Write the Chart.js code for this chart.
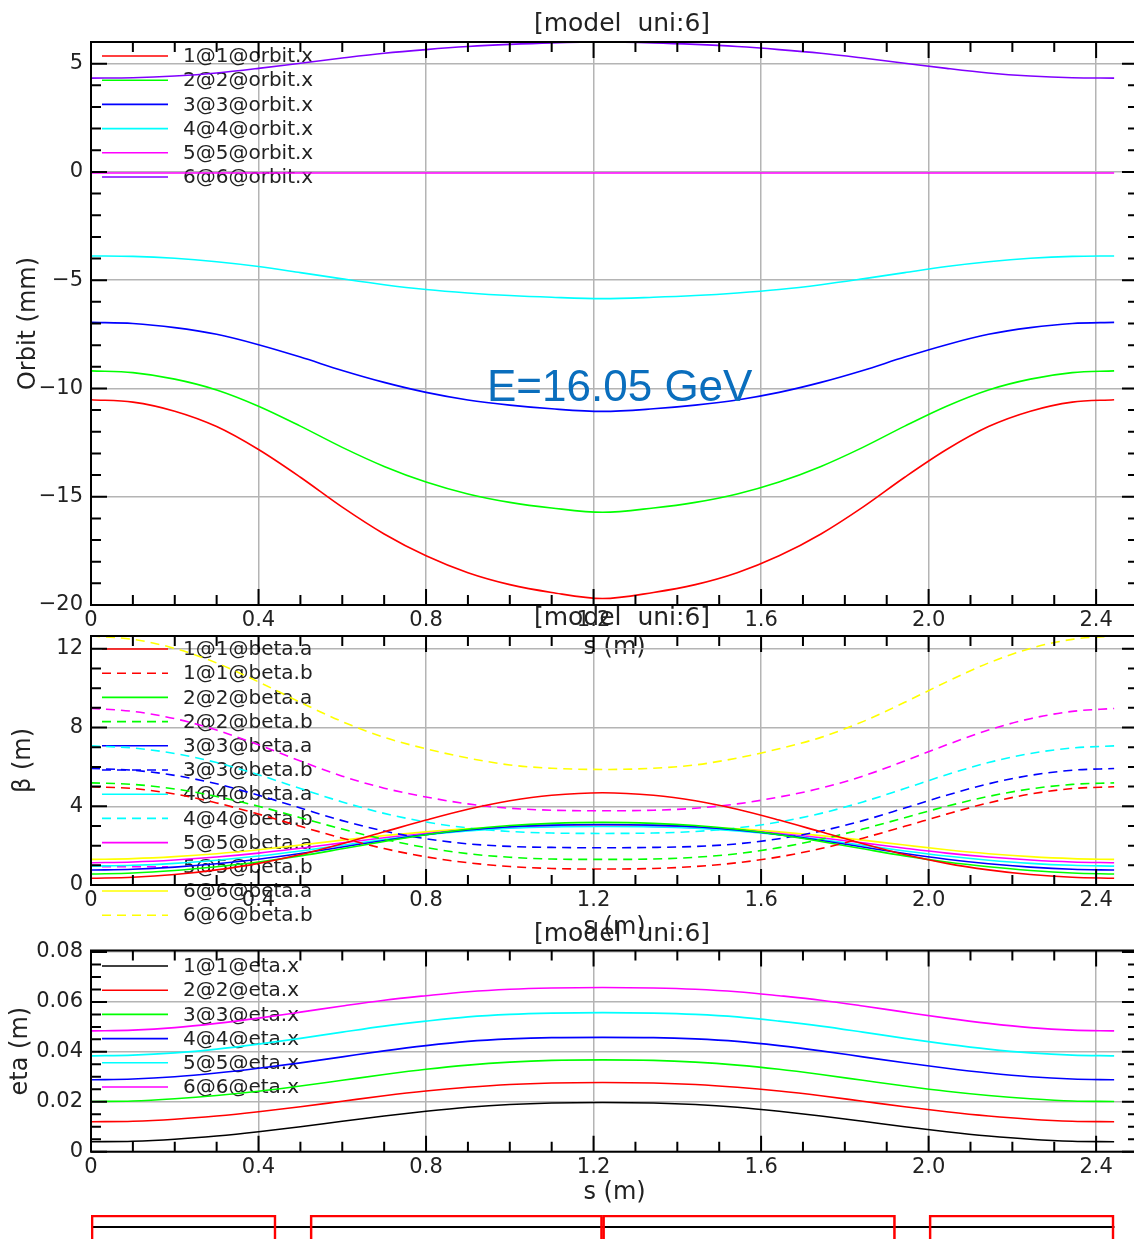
<!DOCTYPE html>
<html>
<head>
<meta charset="utf-8">
<script src="https://cdn.jsdelivr.net/npm/chart.js@4/dist/chart.umd.min.js"></script>
<style>
  html, body { margin: 0; padding: 0; background: #fff; overflow: hidden; width: 1134px; height: 1239px; }
  canvas.panel { position: absolute; left: 0; }
</style>
</head>
<body>
<canvas id="orbitPanel" class="panel" width="1150" height="662" style="top:0px;width:1150px;height:662px"></canvas>
<canvas id="betaPanel" class="panel" width="1150" height="342" style="top:600px;width:1150px;height:342px"></canvas>
<canvas id="etaPanel" class="panel" width="1150" height="292" style="top:915px;width:1150px;height:292px"></canvas>
<canvas id="latticePanel" class="panel" width="1150" height="65" style="top:1200px;width:1150px;height:65px"></canvas>
<script>
// ---- longitudinal positions along the cell (m) ----
const sPos = [0, 0.1, 0.2, 0.3, 0.4, 0.5, 0.6, 0.7, 0.8, 0.9, 1.0, 1.1, 1.2215,
              1.343, 1.443, 1.543, 1.643, 1.743, 1.843, 1.943, 2.043, 2.143, 2.243, 2.343, 2.443];

// ---- orbit.x (mm) for universes 1..6 ----
const orbit1 = [-10.52,-10.63,-11.05,-11.76,-12.82,-14.10,-15.48,-16.72,-17.73,-18.51,-19.06,-19.42,-19.70,
                -19.42,-19.06,-18.51,-17.73,-16.72,-15.48,-14.10,-12.82,-11.76,-11.05,-10.63,-10.52];
const orbit2 = [-9.19,-9.27,-9.57,-10.07,-10.82,-11.74,-12.72,-13.60,-14.32,-14.87,-15.26,-15.52,-15.72,
                -15.52,-15.26,-14.87,-14.32,-13.60,-12.72,-11.74,-10.82,-10.07,-9.57,-9.27,-9.19];
const orbit3 = [-6.95,-7.00,-7.19,-7.50,-7.98,-8.55,-9.17,-9.72,-10.18,-10.53,-10.77,-10.94,-11.06,
                -10.94,-10.77,-10.53,-10.18,-9.72,-9.17,-8.55,-7.98,-7.50,-7.19,-7.00,-6.95];
const orbit4 = [-3.88,-3.90,-3.99,-4.15,-4.37,-4.65,-4.94,-5.21,-5.43,-5.59,-5.71,-5.79,-5.85,
                -5.79,-5.71,-5.59,-5.43,-5.21,-4.94,-4.65,-4.37,-4.15,-3.99,-3.90,-3.88];
const orbit5 = [-0.05,-0.05,-0.05,-0.05,-0.05,-0.05,-0.05,-0.05,-0.05,-0.05,-0.05,-0.05,-0.05,
                -0.05,-0.05,-0.05,-0.05,-0.05,-0.05,-0.05,-0.05,-0.05,-0.05,-0.05,-0.05];
const orbit6 = [4.33,4.35,4.43,4.57,4.78,5.02,5.26,5.48,5.65,5.79,5.89,5.96,6.00,
                5.96,5.89,5.79,5.65,5.48,5.26,5.02,4.78,4.57,4.43,4.35,4.33];

// ---- beta functions (m), a = horizontal, b = vertical ----
const betaA1 = [0.34,0.39,0.53,0.77,1.10,1.55,2.10,2.70,3.30,3.85,4.28,4.56,4.69,
                4.56,4.28,3.85,3.30,2.70,2.10,1.55,1.10,0.77,0.53,0.39,0.34];
const betaB1 = [4.99,4.90,4.62,4.17,3.60,2.98,2.38,1.85,1.43,1.13,0.94,0.84,0.81,
                0.84,0.94,1.13,1.43,1.85,2.38,2.98,3.60,4.17,4.62,4.90,4.99];
const betaA2 = [0.56,0.61,0.74,0.93,1.17,1.48,1.84,2.21,2.55,2.83,3.02,3.13,3.18,
                3.13,3.02,2.83,2.55,2.21,1.84,1.48,1.17,0.93,0.74,0.61,0.56];
const betaB2 = [5.19,5.11,4.88,4.50,4.00,3.42,2.84,2.32,1.90,1.59,1.41,1.32,1.30,
                1.32,1.41,1.59,1.90,2.32,2.84,3.42,4.00,4.50,4.88,5.11,5.19];
const betaA3 = [0.76,0.80,0.91,1.08,1.31,1.60,1.93,2.26,2.56,2.80,2.96,3.04,3.07,
                3.04,2.96,2.80,2.56,2.26,1.93,1.60,1.31,1.08,0.91,0.80,0.76];
const betaB3 = [5.92,5.83,5.57,5.14,4.56,3.91,3.27,2.74,2.35,2.09,1.96,1.91,1.89,
                1.91,1.96,2.09,2.35,2.74,3.27,3.91,4.56,5.14,5.57,5.83,5.92];
const betaA4 = [0.96,1.00,1.10,1.26,1.47,1.73,2.02,2.31,2.56,2.75,2.88,2.95,2.97,
                2.95,2.88,2.75,2.56,2.31,2.02,1.73,1.47,1.26,1.10,1.00,0.96];
const betaB4 = [7.07,6.96,6.68,6.22,5.60,4.90,4.22,3.64,3.20,2.90,2.72,2.64,2.62,
                2.64,2.72,2.90,3.20,3.64,4.22,4.90,5.60,6.22,6.68,6.96,7.07];
const betaA5 = [1.13,1.17,1.27,1.42,1.62,1.87,2.14,2.40,2.62,2.79,2.91,2.98,3.00,
                2.98,2.91,2.79,2.62,2.40,2.14,1.87,1.62,1.42,1.27,1.17,1.13];
const betaB5 = [8.97,8.82,8.45,7.87,7.12,6.30,5.53,4.92,4.47,4.12,3.90,3.80,3.77,
                3.80,3.90,4.12,4.47,4.92,5.53,6.30,7.12,7.87,8.45,8.82,8.97];
const betaA6 = [1.30,1.34,1.44,1.59,1.79,2.03,2.28,2.51,2.70,2.85,2.95,3.00,3.02,
                3.00,2.95,2.85,2.70,2.51,2.28,2.03,1.79,1.59,1.44,1.34,1.30];
const betaB6 = [12.65,12.48,12.02,11.28,10.32,9.28,8.30,7.50,6.92,6.45,6.10,5.93,5.87,
                5.93,6.10,6.45,6.92,7.50,8.30,9.28,10.32,11.28,12.02,12.48,12.65];

// ---- horizontal dispersion eta.x (m) ----
const eta1 = [0.0040,0.0042,0.0050,0.0063,0.0080,0.0100,0.0122,0.0143,0.0162,0.0178,0.0189,0.0195,0.0197,
              0.0195,0.0189,0.0178,0.0162,0.0143,0.0122,0.0100,0.0080,0.0063,0.0050,0.0042,0.0040];
const eta2 = [0.0120,0.0122,0.0130,0.0143,0.0160,0.0180,0.0202,0.0224,0.0243,0.0258,0.0269,0.0275,0.0277,
              0.0275,0.0269,0.0258,0.0243,0.0224,0.0202,0.0180,0.0160,0.0143,0.0130,0.0122,0.0120];
const eta3 = [0.0201,0.0203,0.0212,0.0225,0.0242,0.0263,0.0286,0.0309,0.0330,0.0347,0.0359,0.0366,0.0368,
              0.0366,0.0359,0.0347,0.0330,0.0309,0.0286,0.0263,0.0242,0.0225,0.0212,0.0203,0.0201];
const eta4 = [0.0288,0.0291,0.0300,0.0315,0.0334,0.0356,0.0380,0.0404,0.0425,0.0442,0.0452,0.0457,0.0458,
              0.0457,0.0452,0.0442,0.0425,0.0404,0.0380,0.0356,0.0334,0.0315,0.0300,0.0291,0.0288];
const eta5 = [0.0384,0.0387,0.0396,0.0411,0.0431,0.0454,0.0479,0.0503,0.0523,0.0540,0.0550,0.0555,0.0557,
              0.0555,0.0550,0.0540,0.0523,0.0503,0.0479,0.0454,0.0431,0.0411,0.0396,0.0387,0.0384];
const eta6 = [0.0484,0.0487,0.0497,0.0514,0.0535,0.0559,0.0584,0.0607,0.0625,0.0641,0.0651,0.0656,0.0658,
              0.0656,0.0651,0.0641,0.0625,0.0607,0.0584,0.0559,0.0535,0.0514,0.0497,0.0487,0.0484];

// ---- lattice elements (bends) along s ----
const bendStart = [0, 0.523, 1.2215, 2.001];
const bendEnd   = [0.442, 1.2215, 1.921, 2.443];
const cellLength = 2.443;

// ---- axis tick labels ----
const sTickLabels = ['0', '0.4', '0.8', '1.2', '1.6', '2.0', '2.4'];
const orbitTickLabels = ['−20', '−15', '−10', '−5', '0', '5'];
const betaTickLabels = ['0', '4', '8', '12'];
const etaTickLabels = ['0', '0.02', '0.04', '0.06', '0.08'];

const panelTitle = '[model  uni:6]';
const energyNote = 'E=16.05 GeV';

const FONT = 'DejaVu Sans';
const INK = '#222';

function series(label, values, color, dashed) {
  return {
    label,
    data: sPos.map((s, i) => ({ x: s, y: values[i] })),
    borderColor: color,
    backgroundColor: color,
    borderWidth: 1.6,
    borderDash: dashed ? [9, 6] : [],
    pointRadius: 0,
    fill: false,
    cubicInterpolationMode: 'monotone'
  };
}

// frame box with inward major/minor ticks on all four sides
const framePlugin = {
  id: 'frame',
  afterDraw(chart, args, o) {
    const { ctx, chartArea: a, scales: { x, y } } = chart;
    ctx.save();
    ctx.strokeStyle = '#000';
    ctx.lineWidth = 2;
    ctx.beginPath();
    const nx = Math.round((x.max - x.min) / o.xMinor);
    for (let k = 0; k <= nx; k++) {
      const px = x.getPixelForValue(x.min + k * o.xMinor);
      const len = (k % o.xMajorEvery === 0) ? 16 : 10;
      ctx.moveTo(px, a.top); ctx.lineTo(px, a.top + len);
      ctx.moveTo(px, a.bottom); ctx.lineTo(px, a.bottom - len);
    }
    const ny = Math.floor((y.max - y.min) / o.yMinor + 1e-6);
    for (let k = 0; k <= ny; k++) {
      const py = y.getPixelForValue(y.min + k * o.yMinor);
      const len = (k % o.yMajorEvery === 0) ? 16 : 10;
      ctx.moveTo(a.left, py); ctx.lineTo(a.left + len, py);
      ctx.moveTo(a.right, py); ctx.lineTo(a.right - len, py);
    }
    ctx.stroke();
    ctx.strokeRect(a.left, a.top, a.right - a.left, a.bottom - a.top);
    ctx.restore();
  }
};

// legend rows drawn inside the plot, top-left
const legendPlugin = {
  id: 'innerLegend',
  beforeDatasetsDraw(chart, args, o) {
    const { ctx } = chart;
    ctx.save();
    ctx.font = '20px "' + FONT + '"';
    ctx.textBaseline = 'middle';
    ctx.textAlign = 'left';
    chart.data.datasets.forEach((ds, i) => {
      const yy = o.y0 + i * o.step;
      ctx.strokeStyle = ds.borderColor;
      ctx.lineWidth = 1.6;
      ctx.setLineDash(ds.borderDash || []);
      ctx.beginPath();
      ctx.moveTo(102, yy); ctx.lineTo(168, yy);
      ctx.stroke();
      ctx.setLineDash([]);
      ctx.fillStyle = INK;
      ctx.fillText(ds.label, 183, yy + 1);
    });
    ctx.restore();
  }
};

// panel caption above each plot, plus optional free note
const captionPlugin = {
  id: 'caption',
  afterDraw(chart, args, o) {
    const { ctx } = chart;
    ctx.save();
    ctx.font = '25px "' + FONT + '"';
    ctx.fillStyle = INK;
    ctx.textAlign = 'center';
    ctx.textBaseline = 'middle';
    ctx.fillText(panelTitle, 622, o.titleY);
    if (o.note) {
      ctx.font = '44px "Liberation Sans"';
      ctx.fillStyle = '#0a6ebd';
      ctx.textAlign = 'left';
      ctx.textBaseline = 'alphabetic';
      ctx.fillText(o.note.text, o.note.x, o.note.y);
    }
    ctx.restore();
  }
};

function lineChart(id, datasets, cfg) {
  return new Chart(document.getElementById(id), {
    type: 'line',
    data: { datasets },
    plugins: [legendPlugin, framePlugin, captionPlugin],
    options: {
      responsive: false,
      maintainAspectRatio: false,
      animation: false,
      layout: { padding: { left: 0, right: 12, top: cfg.top, bottom: 0 } },
      scales: {
        x: {
          type: 'linear', min: 0, max: 2.5,
          afterFit(scale) { scale.height = cfg.xHeight; },
          ticks: {
            stepSize: 0.4, includeBounds: false, padding: 3, maxRotation: 0,
            color: INK, font: { family: FONT, size: 21 },
            callback: (v) => sTickLabels[Math.round(v / 0.4)] ?? ''
          },
          grid: { color: '#b4b4b4', lineWidth: 1.5, drawTicks: false },
          border: { display: false },
          title: { display: true, text: 's (m)', color: INK, font: { family: FONT, size: 24 }, padding: 0 }
        },
        y: {
          type: 'linear', min: cfg.yMin, max: cfg.yMax,
          afterFit(scale) { scale.width = 91; },
          ticks: {
            stepSize: cfg.yStep, includeBounds: false, padding: 8,
            color: INK, font: { family: FONT, size: 21 },
            callback: (v) => cfg.yLabels[Math.round((v - cfg.yMin) / cfg.yStep)] ?? ''
          },
          grid: { color: '#b4b4b4', lineWidth: 1.5, drawTicks: false },
          border: { display: false },
          title: { display: true, text: cfg.yTitle, color: INK, font: { family: FONT, size: 24 }, padding: { top: cfg.yTitlePad, bottom: 0 } }
        }
      },
      plugins: {
        legend: { display: false },
        tooltip: { enabled: false },
        innerLegend: { y0: cfg.legendY0, step: 24.2 },
        frame: { xMinor: 0.1, xMajorEvery: 4, yMinor: cfg.yMinor, yMajorEvery: cfg.yMajorEvery },
        caption: { titleY: cfg.titleY, note: cfg.note || null }
      }
    }
  });
}

// ---- orbit panel ----
lineChart('orbitPanel', [
  series('1@1@orbit.x', orbit1, '#ff0000'),
  series('2@2@orbit.x', orbit2, '#00ff00'),
  series('3@3@orbit.x', orbit3, '#0000ff'),
  series('4@4@orbit.x', orbit4, '#00ffff'),
  series('5@5@orbit.x', orbit5, '#ff00ff'),
  series('6@6@orbit.x', orbit6, '#8000ff')
], {
  top: 42, xHeight: 57, yMin: -20, yMax: 6, yStep: 5, yMinor: 1, yMajorEvery: 5,
  yLabels: orbitTickLabels, yTitle: 'Orbit (mm)', yTitlePad: 14,
  legendY0: 56, titleY: 24,
  note: { text: energyNote, x: 487, y: 401 }
});

// ---- beta panel ----
lineChart('betaPanel', [
  series('1@1@beta.a', betaA1, '#ff0000'),
  series('1@1@beta.b', betaB1, '#ff0000', true),
  series('2@2@beta.a', betaA2, '#00ff00'),
  series('2@2@beta.b', betaB2, '#00ff00', true),
  series('3@3@beta.a', betaA3, '#0000ff'),
  series('3@3@beta.b', betaB3, '#0000ff', true),
  series('4@4@beta.a', betaA4, '#00ffff'),
  series('4@4@beta.b', betaB4, '#00ffff', true),
  series('5@5@beta.a', betaA5, '#ff00ff'),
  series('5@5@beta.b', betaB5, '#ff00ff', true),
  series('6@6@beta.a', betaA6, '#ffff00'),
  series('6@6@beta.b', betaB6, '#ffff00', true)
], {
  top: 36, xHeight: 57, yMin: 0, yMax: 12.65, yStep: 4, yMinor: 1, yMajorEvery: 4,
  yLabels: betaTickLabels, yTitle: 'β (m)', yTitlePad: 9,
  legendY0: 49, titleY: 18
});

// ---- dispersion panel ----
lineChart('etaPanel', [
  series('1@1@eta.x', eta1, '#000000'),
  series('2@2@eta.x', eta2, '#ff0000'),
  series('3@3@eta.x', eta3, '#00ff00'),
  series('4@4@eta.x', eta4, '#0000ff'),
  series('5@5@eta.x', eta5, '#00ffff'),
  series('6@6@eta.x', eta6, '#ff00ff')
], {
  top: 35.5, xHeight: 55.3, yMin: 0, yMax: 0.0806, yStep: 0.02, yMinor: 0.005, yMajorEvery: 4,
  yLabels: etaTickLabels, yTitle: 'eta (m)', yTitlePad: 6,
  legendY0: 51, titleY: 19
});

// ---- lattice layout strip: bend outlines and the beam line ----
// vertical axis is a plain -1..1 band; bends sit on 0, the beam line slightly above
const bendLevel = 0;
const beamLevel = 0.52;
const bendSets = bendStart.map((b, i) => ({
  data: [{ x: [b, bendEnd[i]], y: bendLevel }],
  backgroundColor: 'rgba(0,0,0,0)',
  borderColor: '#ff0000',
  borderWidth: 2,
  borderSkipped: false,
  grouped: false,
  barThickness: 50
}));
bendSets.push({
  data: [{ x: [0, cellLength], y: beamLevel }],
  backgroundColor: '#000',
  borderWidth: 0,
  grouped: false,
  barThickness: 1.5
});
new Chart(document.getElementById('latticePanel'), {
  type: 'bar',
  data: { datasets: bendSets },
  options: {
    indexAxis: 'y',
    responsive: false,
    maintainAspectRatio: false,
    animation: false,
    layout: { padding: { left: 91, right: 12, top: 15, bottom: 0 } },
    scales: {
      x: { type: 'linear', min: 0, max: 2.5, display: false },
      y: { type: 'linear', min: -1, max: 1, offset: false, display: false }
    },
    plugins: { legend: { display: false }, tooltip: { enabled: false } }
  }
});
</script>
</body>
</html>
